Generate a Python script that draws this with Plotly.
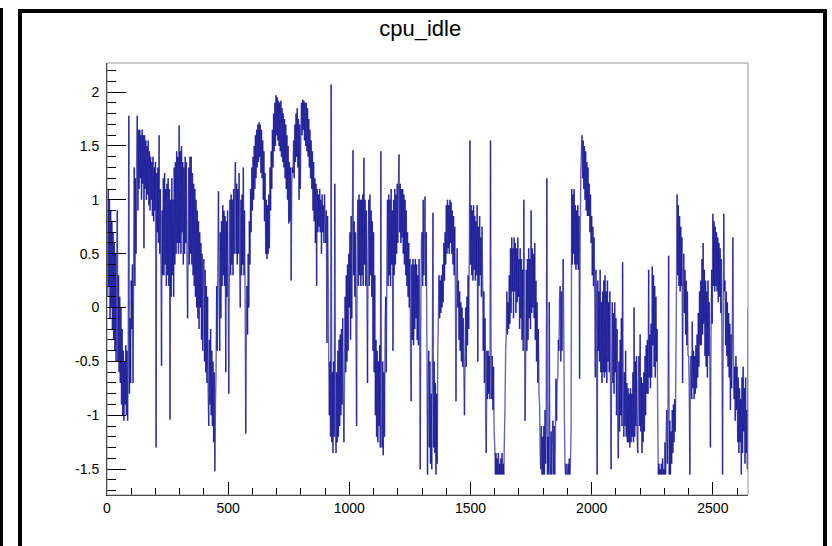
import numpy as np
import plotly.graph_objects as go

# cpu_idle samples, one value every 2.5 x units; each row covers 50 units
STEP = 2.5
cpu_idle = [
    0.9, 0.1, 1.1, 0.2, 1.0, -0.1, 0.9, 0.0, 0.8, -0.2, 0.7, -0.3, 0.6, -0.4, 0.5, -0.5, 0.4, 0.9, -0.5, 0.3,
    -0.6, 0.1, -0.7, 0.0, -0.9, -0.2, -1.0, -0.4, -1.05, -0.5, -0.9, -0.35, -1.0, -0.4, -1.05, -0.5, 1.78, -0.8, -0.1, -0.7,
    0.25, -0.2, 0.4, -0.7, 0.5, 1.3, 0.2, 1.2, 0.5, 1.4, 1.78, 0.9, 1.65, 1.1, 1.65, 1.2, 1.6, 1.0, 1.65, 1.15,
    1.6, 0.55, 1.6, 1.1, 1.55, 1.0, 1.5, 1.05, 1.55, 0.95, 1.45, 0.9, 1.4, 1.0, 1.35, 0.85, 1.4, 0.8, 1.3, 0.9,
    1.35, -1.3, 1.25, 0.7, 1.3, 0.6, 1.6, 0.5, 1.1, 0.4, -0.54, 0.9, 0.3, 1.2, 0.3, 1.25, 0.4, 1.1, 0.2, 1.15,
    0.3, 1.2, 0.2, 1.1, -1.04, 1.0, 0.1, 1.2, 0.3, 1.0, 0.1, 1.3, 0.4, 1.35, 0.5, 1.45, 0.6, 1.4, 0.5, 1.69,
    0.6, 1.45, 0.5, 1.5, 0.7, 1.35, 0.4, 1.3, 0.5, 1.4, 0.6, 1.35, 0.4, -0.1, 0.5, 1.3, 0.4, 1.4, 0.5, 1.4,
    0.4, 1.25, 0.3, 1.15, 0.2, 1.1, 0.1, 1.0, 0.0, 0.9, -0.1, 0.8, -0.2, 0.7, 0.0, 0.6, -0.3, 0.5, -0.4, 0.4,
    0.45, -0.5, 0.35, -0.6, 0.2, -0.7, 0.1, -0.8, -1.1, -0.3, -0.9, -0.2, -1.0, -0.4, -1.1, -0.5, -1.25, -0.6, -1.52, -0.9,
    -0.6, 0.2, -0.4, 0.5, 1.08, 0.2, -0.4, 0.7, -0.1, 0.8, 0.2, 0.95, 0.3, 0.9, 0.2, 0.85, -0.6, 0.8, 0.1, 0.9,
    0.2, -0.8, 0.4, 1.0, 0.3, 1.05, 0.4, 1.0, 0.3, 1.1, 0.5, 1.15, 1.35, 0.5, 1.15, 0.4, 1.1, 0.5, 1.25, 0.4,
    0.0, 1.0, 0.3, 1.05, 0.4, 1.3, 0.3, 0.9, 0.1, -1.17, -0.3, 0.2, -0.25, 0.5, 0.0, 0.8, 0.4, 1.1, 0.7, 1.3,
    0.9, 1.4, 1.0, 1.5, 1.1, 1.6, 1.2, 1.65, 1.3, 1.7, 1.35, 1.72, 1.4, 1.7, 1.25, 1.65, 1.2, 1.55, 1.0, 1.45,
    0.8, 1.25, 0.5, 1.0, 0.45, 0.95, 0.5, 1.05, 0.55, 1.3, 0.9, 1.45, 1.1, 1.65, 1.3, 1.8, 1.45, 1.9, 1.5, 1.97,
    1.6, 1.95, 1.55, 1.92, 1.5, 1.9, 1.45, 1.92, 1.4, 1.85, 1.35, 1.8, 1.3, 1.75, 1.2, 1.7, 1.1, 1.6, 1.0, 1.5,
    0.78, 1.35, 0.8, 1.3, 0.25, 1.15, 1.3, 1.25, 1.55, 1.2, 1.7, 1.35, 1.8, 1.4, 1.85, 1.3, 1.75, 1.0, 1.7, 1.1,
    1.6, 1.9, 1.6, 1.93, 1.65, 1.92, 1.55, 1.9, 1.5, 1.9, 1.45, 1.85, 1.4, 1.75, 1.3, 1.65, 1.2, 1.55, 1.1, 1.45,
    0.9, 1.35, 0.8, 1.2, 0.6, 1.15, 0.2, 1.1, 0.7, 1.05, 0.75, 1.1, 0.7, 1.0, 0.5, 1.05, 0.7, 0.95, 0.6, 1.05,
    0.8, 0.6, 0.9, -0.33, 0.85, 0.4, -0.5, -1.0, -0.5, -1.2, 2.07, -1.25, -0.6, -1.35, -0.5, -1.2, 1.15, -0.8, -1.35, -0.6,
    -1.25, -0.4, -1.2, -0.3, -1.1, -0.25, -1.0, -0.2, -0.9, -0.1, -0.8, -1.25, -0.7, 0.1, -0.6, 0.3, -0.5, 0.4, -0.4, 0.5,
    0.0, 0.7, -0.3, 0.85, -0.1, 0.8, 1.46, 0.3, 0.8, 0.1, 0.7, -0.35, -1.1, 0.6, 1.0, 0.2, 1.05, 0.3, 1.0, 0.2,
    1.0, 0.3, 1.05, 0.2, 1.39, 0.4, 1.0, 0.2, 0.9, 0.1, -0.7, 0.6, 1.0, 0.2, 1.05, 0.3, 0.9, 0.1, 0.8, -0.4,
    0.7, -0.6, 0.3, -1.0, -0.3, -1.2, -0.4, -1.25, -0.5, -1.1, -0.35, -1.3, 1.45, -0.9, -1.3, -0.5, -1.37, -0.6, -1.2, -0.2,
    0.1, -0.6, 0.5, 1.0, 0.2, 1.05, 0.3, 1.0, 0.2, 1.1, 0.4, 0.9, -0.4, 1.0, 0.3, 1.1, 0.4, 1.05, 0.5, 1.15,
    0.6, 1.15, 1.42, 0.7, 1.15, 0.6, 1.1, 0.65, 1.1, 0.5, 1.05, 0.4, 1.0, 0.3, 0.9, 0.2, 0.7, 0.1, 0.6, 0.0,
    0.45, -0.35, -0.87, 0.4, -0.3, 0.45, -0.35, 0.4, -0.2, 0.45, -0.1, 0.4, -0.3, 0.3, -0.35, 0.45, -0.1, -1.5, 0.0, 0.6,
    0.7, 0.2, 1.0, 0.3, 0.8, 1.03, 0.2, 0.7, -0.3, -1.55, -0.7, -0.4, -1.3, -0.5, -1.45, -0.8, -1.5, -0.5, 0.88, -1.3,
    -0.5, -1.35, -0.7, -1.55, -0.8, -1.45, -0.4, -0.1, 0.3, -0.1, 0.25, -0.05, 0.3, 0.0, 0.4, 0.05, 0.6, 0.25, 0.7, 0.4,
    0.95, 0.5, 1.0, 0.55, 0.95, 0.5, 1.0, 0.6, 0.98, 0.5, 0.9, 0.4, 0.85, 0.3, 0.75, 0.2, -0.87, 0.1, 0.55, 0.0,
    0.25, -0.3, 0.15, -0.4, 0.05, -0.5, 0.0, -0.55, -0.1, -0.6, -1.0, -0.5, 0.0, -0.55, 0.1, -0.35, 0.3, -0.2, 0.5, 1.55,
    0.4, 0.95, 0.3, 0.9, 0.25, 0.95, 0.35, 0.85, 0.25, 0.8, 0.3, 0.95, -0.5, 0.75, 0.2, 0.85, 0.3, 0.65, 0.1, 0.75,
    0.25, -0.4, 0.15, -0.7, -0.1, -1.0, -1.35, -0.4, -0.85, -0.4, -0.8, -0.45, -0.85, 1.55, -0.5, -0.85, -0.45, -0.95, -0.55, -1.15,
    -1.3, -1.55, -1.35, -1.55, -1.4, -1.55, -1.35, -1.55, -1.45, -1.55, -1.4, -1.55, -1.35, -1.55, -1.45, -1.55, -1.2, -0.9, -0.4, -0.25,
    0.15, -0.25, 0.05, -0.2, 0.3, -0.15, 0.55, -0.05, 0.65, 0.15, 0.55, -0.1, 0.65, 0.15, 0.6, -0.05, 0.55, 0.05, 0.65, 0.1,
    0.45, -0.2, 0.55, -0.1, 0.45, -0.3, 0.35, -0.4, 1.0, 0.1, -1.05, -0.5, 0.35, -0.4, 0.45, -0.3, 0.55, -0.1, 0.45, -0.2,
    0.9, -0.05, 0.55, 0.0, 0.5, -0.1, 0.6, -0.3, 0.25, -0.5, 0.05, -0.7, -0.2, -0.8, -0.9, -1.35, -1.5, -1.1, -1.55, -1.2,
    -1.55, -1.1, -1.55, -0.95, -1.45, -1.0, 1.2, -1.55, -1.2, -1.55, 0.05, -1.45, -1.55, -1.15, -1.55, -1.2, -1.05, -1.55, -1.1, -1.55,
    -1.25, -0.66, -1.05, -0.7, -0.65, -0.3, -0.4, 0.1, 0.2, -0.5, 0.15, -0.4, 0.05, 0.45, -0.3, -1.05, -1.5, -1.55, -1.45, -1.55,
    -1.55, -1.45, -1.55, -1.4, -1.55, -1.45, -1.1, 1.1, 0.4, 1.05, 0.5, 1.1, 0.4, 0.95, 0.35, 0.9, 0.4, 0.95, 0.35, 0.85,
    -0.66, 0.6, 1.25, 1.45, 1.6, 1.2, 1.55, 1.1, 1.5, 1.0, 1.45, 0.9, 1.35, 0.85, 1.3, 0.85, 1.15, 0.7, 1.05, 0.6,
    0.85, 0.3, 0.75, 0.2, 0.65, 0.1, -0.65, 0.35, -0.1, -1.55, 0.25, -0.4, 0.15, -0.5, 0.35, -0.6, 0.05, -0.7, 0.15, -0.6,
    0.25, -0.65, 0.3, -0.6, 0.15, -0.7, 0.25, -0.5, 0.05, -0.6, 0.15, -0.7, -1.5, -0.5, 0.05, -0.7, -0.05, -0.8, 0.05, -0.6,
    -0.1, -1.0, -0.2, -1.1, -1.4, -0.5, -1.15, -0.3, -1.0, -0.1, -1.1, 0.42, -0.7, -1.2, -0.6, -1.1, -0.4, -1.2, -0.7, -1.25,
    -0.75, -1.25, -0.8, -1.3, -0.75, -1.25, -0.8, -1.2, -0.6, -1.25, 0.0, -1.2, -0.5, -1.1, -0.45, -1.2, -1.35, -0.7, -0.45, -1.1,
    -0.25, -1.15, -0.65, -1.35, -0.7, -1.25, -0.6, -1.15, -0.45, -1.0, -0.35, -0.8, -0.3, -0.8, 0.35, -0.65, -0.25, -0.75, -0.15, -0.65,
    0.38, -0.35, 0.3, -0.55, 0.2, -0.65, 0.1, -0.5, -0.2, -1.0, -1.55, -1.45, -1.55, -1.5, -1.55, -1.45, -1.55, -1.4, -1.55, -1.5,
    -1.55, -1.25, -1.55, -1.15, -0.95, -1.45, -0.9, 0.48, -1.55, -1.05, -1.55, -1.15, -1.45, -0.95, -1.35, -0.9, -1.25, -0.85, -1.15, -0.5,
    0.25, 1.05, 0.3, 0.95, 0.2, 0.85, 0.15, 0.75, 0.2, 0.65, -0.7, 0.15, 0.5, -0.05, 0.35, -0.25, 0.25, -0.35, 0.15, -0.45,
    -0.45, -0.75, -1.55, -0.55, -0.45, -0.85, -0.13, -0.75, -0.4, -0.85, -0.45, -0.8, -0.35, -0.75, -0.25, -0.65, -0.05, -0.55, 0.15, -0.35,
    0.25, -0.35, 0.45, -0.25, 0.6, -0.15, 0.35, -0.45, 0.25, -0.55, 0.15, -0.65, 0.25, -0.45, 0.05, -0.55, -1.3, -0.25, 0.35, -0.15,
    0.87, 0.2, 0.8, 0.15, 0.75, 0.2, 0.7, 0.15, 0.65, 0.05, 0.6, 0.1, 0.55, -0.05, 0.45, -0.35, -1.55, -0.25, 0.87, 0.15,
    0.25, -0.35, 0.15, -0.45, 0.05, -0.55, -0.05, -0.65, -0.15, -0.95, -0.25, -0.75, -0.35, 0.65, -0.45, -0.85, -0.55, -1.05, -0.45, -0.95,
    -0.55, -1.25, -0.65, -1.35, -0.75, -1.25, -0.85, -1.55, -0.65, -1.35, -0.55, -1.15, -0.75, -1.45, -0.65, -1.35, -0.95, -1.5, 0.0,
]
x_vals = np.arange(len(cpu_idle)) * STEP

TITLE = "cpu_idle"
X_RANGE = [0, 2645]
Y_RANGE = [-1.74, 2.27]
x_ticks = [0, 500, 1000, 1500, 2000, 2500]
x_tick_text = ["0", "500", "1000", "1500", "2000", "2500"]
y_ticks = [-1.5, -1.0, -0.5, 0.0, 0.5, 1.0, 1.5, 2.0]
y_tick_text = ["-1.5", "-1", "-0.5", "0", "0.5", "1", "1.5", "2"]

W, H = 832, 546
L, R, T, B = 107, 748, 63, 495  # plot frame in pixels


def px(xp):
    return (xp - L) / (R - L)


def py(yp):
    return (B - yp) / (B - T)


fig = go.Figure()

# The polyline is split into interleaved groups of segments so that
# overlapping strokes build up: busy stretches turn dark, lone excursions stay pale.
N_GROUPS = 4
n_seg = len(cpu_idle) - 1
for g in range(N_GROUPS):
    xs, ys = [], []
    for i in range(g, n_seg, N_GROUPS):
        xs += [x_vals[i], x_vals[i + 1], None]
        ys += [cpu_idle[i], cpu_idle[i + 1], None]
    fig.add_trace(go.Scatter(
        x=xs, y=ys, mode="lines", connectgaps=False,
        line=dict(color="rgba(0,0,140,0.6)", width=1.4),
        hoverinfo="skip", showlegend=False,
    ))

font = dict(family="Liberation Sans, Arial, sans-serif", color="black")

fig.update_layout(
    width=W, height=H,
    margin=dict(l=L, r=W - R, t=T, b=H - B, pad=0),
    paper_bgcolor="white", plot_bgcolor="white",
    showlegend=False,
    title=dict(text=TITLE, x=0.505, xanchor="center", y=1 - 28 / H, yanchor="middle",
               font=dict(size=22, **font)),
    xaxis=dict(
        range=X_RANGE, showgrid=False, zeroline=False,
        showline=True, linecolor="black", linewidth=1,
        ticks="inside", ticklen=13, tickcolor="black", tickwidth=1,
        tickvals=x_ticks, ticktext=x_tick_text,
        tickfont=dict(size=14, **font),
        minor=dict(ticks="inside", ticklen=7, dtick=100, tick0=0, tickcolor="black"),
    ),
    yaxis=dict(
        range=Y_RANGE, showgrid=False, zeroline=False,
        showline=True, linecolor="black", linewidth=1,
        ticks="inside", ticklen=19, tickcolor="black", tickwidth=1,
        tickvals=y_ticks, ticktext=y_tick_text,
        tickfont=dict(size=14, **font), ticklabelstandoff=4,
        minor=dict(ticks="inside", ticklen=9, dtick=0.1, tick0=0, tickcolor="black"),
    ),
)

# thin grey frame closing the plot box on top and right
fig.add_shape(type="rect", xref="paper", yref="paper", x0=0, y0=0, x1=1, y1=1,
              line=dict(color="rgb(150,150,150)", width=1), layer="above")
# black canvas border
fig.add_shape(type="rect", xref="paper", yref="paper",
              x0=px(20), x1=px(825), y0=py(11), y1=py(560),
              line=dict(color="black", width=4), layer="above")
# black strip on the far left
fig.add_shape(type="rect", xref="paper", yref="paper",
              x0=px(0), x1=px(3), y0=py(8), y1=py(560),
              line=dict(width=0), fillcolor="black", layer="above")

fig.write_html("out.html")
